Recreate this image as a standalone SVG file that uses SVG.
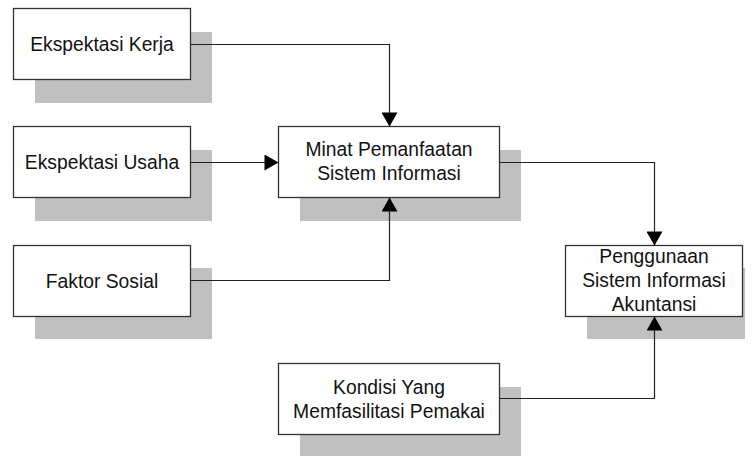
<svg xmlns="http://www.w3.org/2000/svg" width="752" height="456" viewBox="0 0 752 456">
<style>
.bg{fill:#ffffff}
.sh{fill:#c0c0c0;stroke:none}
.box{fill:#ffffff;stroke:#333333;stroke-width:1.3}
.lbl{font-family:"Liberation Sans",Arial,sans-serif;font-size:19.3px;fill:#111111;text-anchor:middle}
.conn{fill:none;stroke:#222222;stroke-width:1.2}
</style>
<defs>
<marker id="arr" markerUnits="userSpaceOnUse" markerWidth="16" markerHeight="16" viewBox="0 0 14 16" refX="14" refY="8" orient="auto">
<path d="M0,0 L14,8 L0,16 Z" fill="#000000"/>
</marker>
</defs>
<rect class="bg" x="0" y="0" width="752" height="456"/>
<g id="node-ekspektasi-kerja">
<rect class="sh" x="35" y="32" width="177" height="71"/>
<rect class="box" x="13.5" y="8.5" width="177" height="71"/>
<text class="lbl" x="102" y="51">Ekspektasi Kerja</text>
</g>
<g id="node-ekspektasi-usaha">
<rect class="sh" x="35" y="150" width="177" height="71"/>
<rect class="box" x="13.5" y="126.5" width="177" height="71"/>
<text class="lbl" x="102" y="169">Ekspektasi Usaha</text>
</g>
<g id="node-faktor-sosial">
<rect class="sh" x="35" y="268" width="177" height="71"/>
<rect class="box" x="13.5" y="245.5" width="177" height="71"/>
<text class="lbl" x="102" y="288">Faktor Sosial</text>
</g>
<g id="node-minat">
<rect class="sh" x="300" y="150" width="221" height="71"/>
<rect class="box" x="278.5" y="126.5" width="221" height="71"/>
<text class="lbl" x="389" y="155.5">Minat Pemanfaatan</text>
<text class="lbl" x="389" y="180.2">Sistem Informasi</text>
</g>
<g id="node-penggunaan">
<rect class="sh" x="587" y="268" width="158" height="71"/>
<rect class="box" x="565.5" y="245.5" width="177" height="71"/>
<text class="lbl" x="654" y="262.7">Penggunaan</text>
<text class="lbl" x="654" y="286.7">Sistem Informasi</text>
<text class="lbl" x="654" y="310.7">Akuntansi</text>
</g>
<g id="node-kondisi">
<rect class="sh" x="300" y="387" width="221" height="69"/>
<rect class="box" x="278.5" y="363.5" width="221" height="71"/>
<text class="lbl" x="389" y="393.5">Kondisi Yang</text>
<text class="lbl" x="389" y="418.2">Memfasilitasi Pemakai</text>
</g>
<g id="connectors">
<path class="conn" d="M190.5,44.5 H389.5 V126.5" marker-end="url(#arr)"/>
<path class="conn" d="M190.5,162.5 H278.5" marker-end="url(#arr)"/>
<path class="conn" d="M190.5,280.5 H389.5 V197.5" marker-end="url(#arr)"/>
<path class="conn" d="M499.5,162.5 H654.5 V245.5" marker-end="url(#arr)"/>
<path class="conn" d="M499.5,398.5 H654.5 V316.5" marker-end="url(#arr)"/>
</g>
</svg>
